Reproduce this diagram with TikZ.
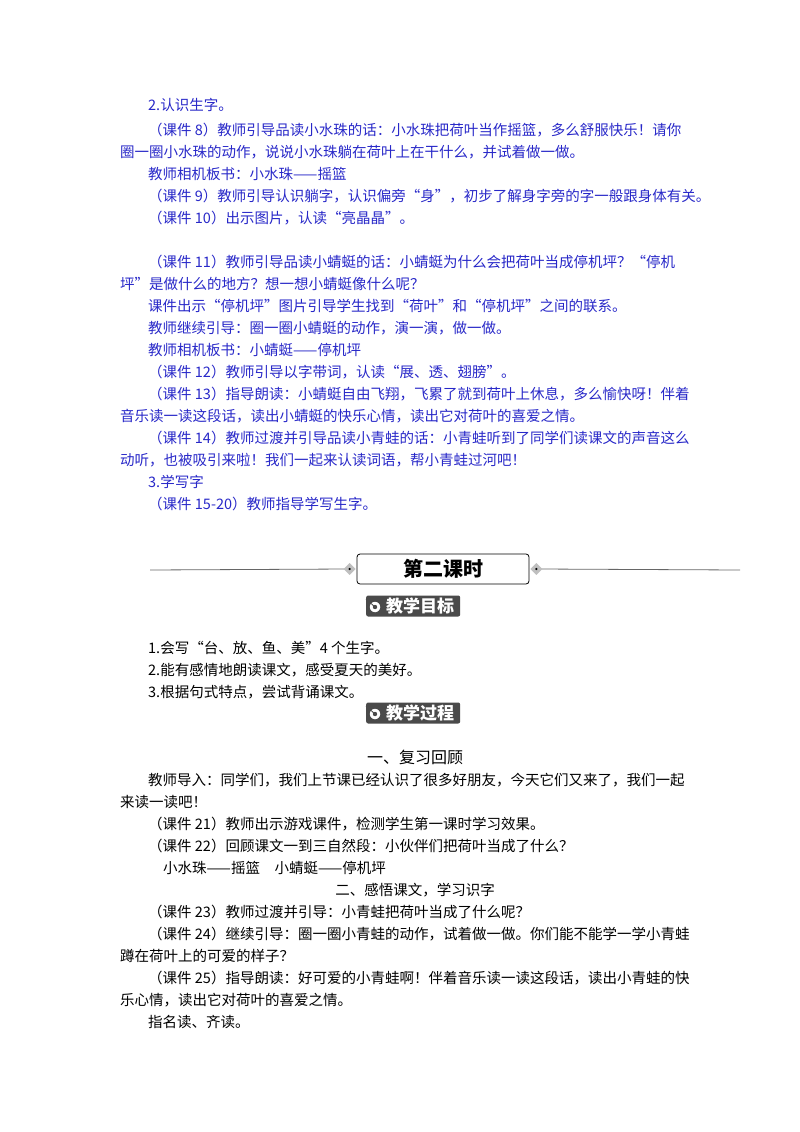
\documentclass[tikz,border=0pt]{standalone}
\usepackage{fontspec}
\usetikzlibrary{shapes.geometric}
\setmainfont{Noto Sans CJK SC}
\definecolor{bl}{HTML}{2828C8}
\definecolor{badge}{HTML}{4A4A4A}
\begin{document}
\begin{tikzpicture}[x=1pt,y=-1pt,
  t/.style={anchor=base west,inner sep=0,font=\fontsize{14.5}{16}\selectfont},
  tb/.style={t,text=bl},
  badgebox/.style={fill=badge,rounded corners=2pt,text=white,inner sep=2pt,font=\fontsize{17}{18}\selectfont\bfseries,minimum height=21pt,minimum width=94pt},
  target/.style={draw=badge,fill=white,circle,line width=2pt,inner sep=4.5pt}]
\useasboundingbox (0,0) rectangle (800,1132);
\node[tb] (l1) at (148,110) {2.认识生字。};
\node[tb] (l2) at (148,135) {（课件 8）教师引导品读小水珠的话：小水珠把荷叶当作摇篮，多么舒服快乐！请你};
\node[tb] (l3) at (120,157) {圈一圈小水珠的动作，说说小水珠躺在荷叶上在干什么，并试着做一做。};
\node[tb] (l4) at (148,179) {教师相机板书：小水珠——摇篮};
\node[tb] (l5) at (148,201) {（课件 9）教师引导认识躺字，认识偏旁“身”，初步了解身字旁的字一般跟身体有关。};
\node[tb] (l6) at (148,223) {（课件 10）出示图片，认读“亮晶晶”。};
\node[tb] (l7) at (148,267) {（课件 11）教师引导品读小蜻蜓的话：小蜻蜓为什么会把荷叶当成停机坪？“停机};
\node[tb] (l8) at (120,289) {坪”是做什么的地方？想一想小蜻蜓像什么呢？};
\node[tb] (l9) at (148,311) {课件出示“停机坪”图片引导学生找到“荷叶”和“停机坪”之间的联系。};
\node[tb] (l10) at (148,333) {教师继续引导：圈一圈小蜻蜓的动作，演一演，做一做。};
\node[tb] (l11) at (148,355) {教师相机板书：小蜻蜓——停机坪};
\node[tb] (l12) at (148,377) {（课件 12）教师引导以字带词，认读“展、透、翅膀”。};
\node[tb] (l13) at (148,399) {（课件 13）指导朗读：小蜻蜓自由飞翔，飞累了就到荷叶上休息，多么愉快呀！伴着};
\node[tb] (l14) at (120,421) {音乐读一读这段话，读出小蜻蜓的快乐心情，读出它对荷叶的喜爱之情。};
\node[tb] (l15) at (148,443) {（课件 14）教师过渡并引导品读小青蛙的话：小青蛙听到了同学们读课文的声音这么};
\node[tb] (l16) at (120,465) {动听，也被吸引来啦！我们一起来认读词语，帮小青蛙过河吧！};
\node[tb] (l17) at (148,487) {3.学写字};
\node[tb] (l18) at (148,509) {（课件 15-20）教师指导学写生字。};
% header
\node[draw,thick,rounded corners=3pt,minimum width=172pt,minimum height=30pt,font=\fontsize{20}{22}\selectfont\bfseries] (hd) at (443,569) {第二课时};
\coordinate (hl) at (150,570);
\coordinate (hr) at (740,570);
\draw[gray!80!black,thick] (hl) -- ([xshift=-10pt]hd.west);
\draw[gray!80!black,thick] ([xshift=10pt]hd.east) -- (hr);
\node[fill=gray!50,diamond,inner sep=3pt] (dl) at ([xshift=-7pt]hd.west) {};
\node[fill=gray!50,diamond,inner sep=3pt] (dr) at ([xshift=7pt]hd.east) {};
\fill[black] (dl) circle (1.2pt) (dr) circle (1.2pt);
% badges
\node[badgebox,anchor=west] (b1) at (366,606) {\hspace{14pt}教学目标};
\node[target] (i1) at (375,607) {};
\fill[badge] (i1) circle (2.2pt);
\draw[badge,thick] (i1.center) -- ++(-9,-8);
\node[t] (m1) at (148,653) {1.会写“台、放、鱼、美”4 个生字。};
\node[t] (m2) at (148,675) {2.能有感情地朗读课文，感受夏天的美好。};
\node[t] (m3) at (148,697) {3.根据句式特点，尝试背诵课文。};
\node[badgebox,anchor=west] (b2) at (366,713) {\hspace{14pt}教学过程};
\node[target] (i2) at (375,714) {};
\fill[badge] (i2) circle (2.2pt);
\draw[badge,thick] (i2.center) -- ++(-9,-8);
\node[t,anchor=base,font=\fontsize{16}{18}\selectfont] (s1) at (415,763) {一、复习回顾};
\node[t] (p1) at (120,785) {\hspace{28pt}教师导入：同学们，我们上节课已经认识了很多好朋友，今天它们又来了，我们一起};
\node[t] (p2) at (120,807) {来读一读吧！};
\node[t] (p3) at (148,829) {（课件 21）教师出示游戏课件，检测学生第一课时学习效果。};
\node[t] (p4) at (148,851) {（课件 22）回顾课文一到三自然段：小伙伴们把荷叶当成了什么？};
\node[t] (p5) at (163,873) {小水珠——摇篮\quad 小蜻蜓——停机坪};
\node[t,anchor=base] (s2) at (415,895) {二、感悟课文，学习识字};
\node[t] (p6) at (148,917) {（课件 23）教师过渡并引导：小青蛙把荷叶当成了什么呢？};
\node[t] (p7) at (148,939) {（课件 24）继续引导：圈一圈小青蛙的动作，试着做一做。你们能不能学一学小青蛙};
\node[t] (p8) at (120,961) {蹲在荷叶上的可爱的样子？};
\node[t] (p9) at (148,983) {（课件 25）指导朗读：好可爱的小青蛙啊！伴着音乐读一读这段话，读出小青蛙的快};
\node[t] (p10) at (120,1005) {乐心情，读出它对荷叶的喜爱之情。};
\node[t] (p11) at (148,1027) {指名读、齐读。};
\end{tikzpicture}
\end{document}
